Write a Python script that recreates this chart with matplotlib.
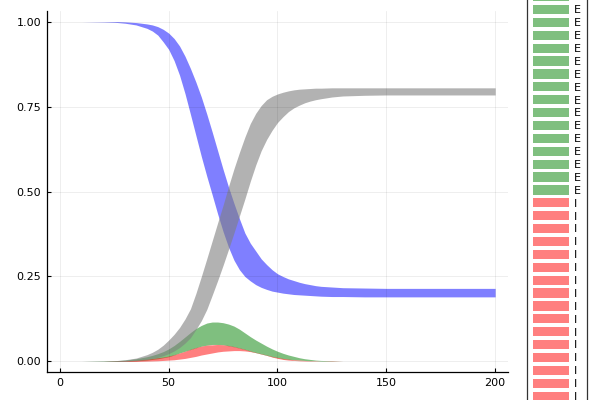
import numpy as np
import matplotlib
matplotlib.use("Agg")
import matplotlib.pyplot as plt
from matplotlib.patches import Patch

# time points (denser where the curves bend)
t = [0, 10, 20, 25, 30, 35, 40,
     42.5, 45, 47.5, 50, 52.5, 55, 57.5, 60, 62.5, 65, 67.5, 70, 72.5, 75,
     77.5, 80, 82.5, 85, 87.5, 90, 92.5, 95, 97.5, 100, 102.5, 105, 107.5,
     110, 112.5, 115, 117.5, 120,
     125, 130, 140, 150, 175, 200]

s_low = [1.0, 1.0, 0.999, 0.998, 0.995, 0.99, 0.98,
         0.972, 0.96, 0.94, 0.918, 0.885, 0.842, 0.788, 0.727, 0.665, 0.603,
         0.545, 0.49, 0.434, 0.382, 0.336, 0.298, 0.27, 0.25, 0.237, 0.226,
         0.218, 0.212, 0.207, 0.204, 0.201, 0.199, 0.197, 0.196, 0.195,
         0.194, 0.193, 0.192,
         0.191, 0.191, 0.19, 0.19, 0.19, 0.19]
s_high = [1.0, 1.0, 1.0, 1.0, 0.999, 0.997, 0.993,
          0.99, 0.985, 0.977, 0.966, 0.95, 0.928, 0.898, 0.862, 0.822, 0.778,
          0.728, 0.675, 0.62, 0.565, 0.513, 0.465, 0.42, 0.378, 0.348, 0.325,
          0.302, 0.285, 0.27, 0.258, 0.25, 0.243, 0.238, 0.233, 0.229, 0.226,
          0.223, 0.221,
          0.219, 0.217, 0.216, 0.215, 0.215, 0.215]

e_low = [0, 0, 0, 0, 0.001, 0.002, 0.004,
         0.006, 0.008, 0.011, 0.014, 0.019, 0.025, 0.03, 0.035, 0.04, 0.045,
         0.048, 0.05, 0.05, 0.049, 0.046, 0.043, 0.039, 0.035, 0.03, 0.026,
         0.022, 0.018, 0.014, 0.011, 0.008, 0.006, 0.005, 0.004, 0.003,
         0.002, 0.002, 0.001,
         0.001, 0.001, 0, 0, 0, 0]
e_high = [0, 0, 0.001, 0.002, 0.004, 0.008, 0.014,
          0.018, 0.023, 0.029, 0.037, 0.047, 0.059, 0.072, 0.085, 0.097,
          0.106, 0.113, 0.116, 0.116, 0.114, 0.11, 0.104, 0.095, 0.084, 0.073,
          0.063, 0.054, 0.045, 0.037, 0.03, 0.024, 0.019, 0.015, 0.011, 0.008,
          0.006, 0.004, 0.003,
          0.002, 0.001, 0, 0, 0, 0]

i_low = [0, 0, 0, 0, 0, 0, 0.001,
         0.0015, 0.002, 0.003, 0.004, 0.005, 0.007, 0.009, 0.012, 0.015,
         0.019, 0.022, 0.025, 0.028, 0.03, 0.031, 0.032, 0.032, 0.031, 0.029,
         0.026, 0.022, 0.018, 0.013, 0.009, 0.006, 0.004, 0.003, 0.002,
         0.0015, 0.001, 0.001, 0.001,
         0, 0, 0, 0, 0, 0]
i_high = [0, 0, 0, 0.001, 0.002, 0.004, 0.007,
          0.009, 0.011, 0.013, 0.016, 0.02, 0.025, 0.03, 0.036, 0.041, 0.045,
          0.048, 0.049, 0.05, 0.049, 0.047, 0.044, 0.04, 0.036, 0.031, 0.027,
          0.023, 0.019, 0.015, 0.012, 0.009, 0.007, 0.005, 0.004, 0.003,
          0.002, 0.002, 0.001,
          0.001, 0, 0, 0, 0, 0]

r_low = [0, 0, 0, 0, 0.001, 0.003, 0.006,
         0.009, 0.012, 0.017, 0.023, 0.031, 0.041, 0.054, 0.07, 0.094, 0.12,
         0.153, 0.195, 0.238, 0.283, 0.33, 0.378, 0.428, 0.478, 0.53, 0.578,
         0.62, 0.653, 0.68, 0.703, 0.72, 0.735, 0.746, 0.754, 0.761, 0.766,
         0.77, 0.773,
         0.778, 0.781, 0.783, 0.784, 0.784, 0.784]
r_high = [0, 0, 0.001, 0.002, 0.005, 0.01, 0.02,
          0.027, 0.036, 0.048, 0.063, 0.08, 0.1, 0.125, 0.155, 0.2, 0.25,
          0.302, 0.355, 0.408, 0.46, 0.515, 0.567, 0.615, 0.66, 0.7, 0.73,
          0.753, 0.77, 0.78, 0.787, 0.792, 0.796, 0.799, 0.801, 0.802, 0.803,
          0.804, 0.804,
          0.805, 0.805, 0.805, 0.805, 0.805, 0.805]

labels = ["S", "E", "I", "R"]
colors = ["blue", "green", "red", "gray"]
alphas = [0.5, 0.5, 0.5, 0.6]
n_legend = 20  # legend repeats each series and runs off the figure

fig = plt.figure(figsize=(6, 4), dpi=100)
ax = fig.add_axes([0.078, 0.07, 0.769, 0.9025])

bands = [(s_low, s_high), (e_low, e_high), (i_low, i_high), (r_low, r_high)]
for (lo, hi), c, a in zip(bands, colors, alphas):
    ax.fill_between(t, lo, hi, color=c, alpha=a, linewidth=0)

ax.set_xlim(-6, 206)
ax.set_ylim(-0.031, 1.031)
ax.set_xticks([0, 50, 100, 150, 200])
ax.set_yticks([0, 0.25, 0.5, 0.75, 1.0])
ax.set_yticklabels(["0.00", "0.25", "0.50", "0.75", "1.00"])
ax.tick_params(direction="in", length=3, width=0.8, labelsize=8, pad=4)
ax.grid(True, color="black", alpha=0.08, linewidth=0.6)
for side in ["top", "right"]:
    ax.spines[side].set_visible(False)
for side in ["left", "bottom"]:
    ax.spines[side].set_linewidth(0.9)

handles = []
names = []
for lab, c in zip(labels, colors):
    for k in range(n_legend):
        handles.append(Patch(facecolor=c, alpha=0.5, edgecolor="none"))
        names.append(lab)
leg = fig.legend(handles, names, loc="center left",
                 bbox_to_anchor=(527 / 600, 0.5075), bbox_transform=fig.transFigure,
                 borderaxespad=0, fontsize=8, handlelength=3.3, handleheight=0.9,
                 handletextpad=0.4, labelspacing=0.22, borderpad=0.5,
                 frameon=True, fancybox=False, edgecolor="black")
leg.get_frame().set_linewidth(0.9)

fig.savefig("out.png", dpi=100)
